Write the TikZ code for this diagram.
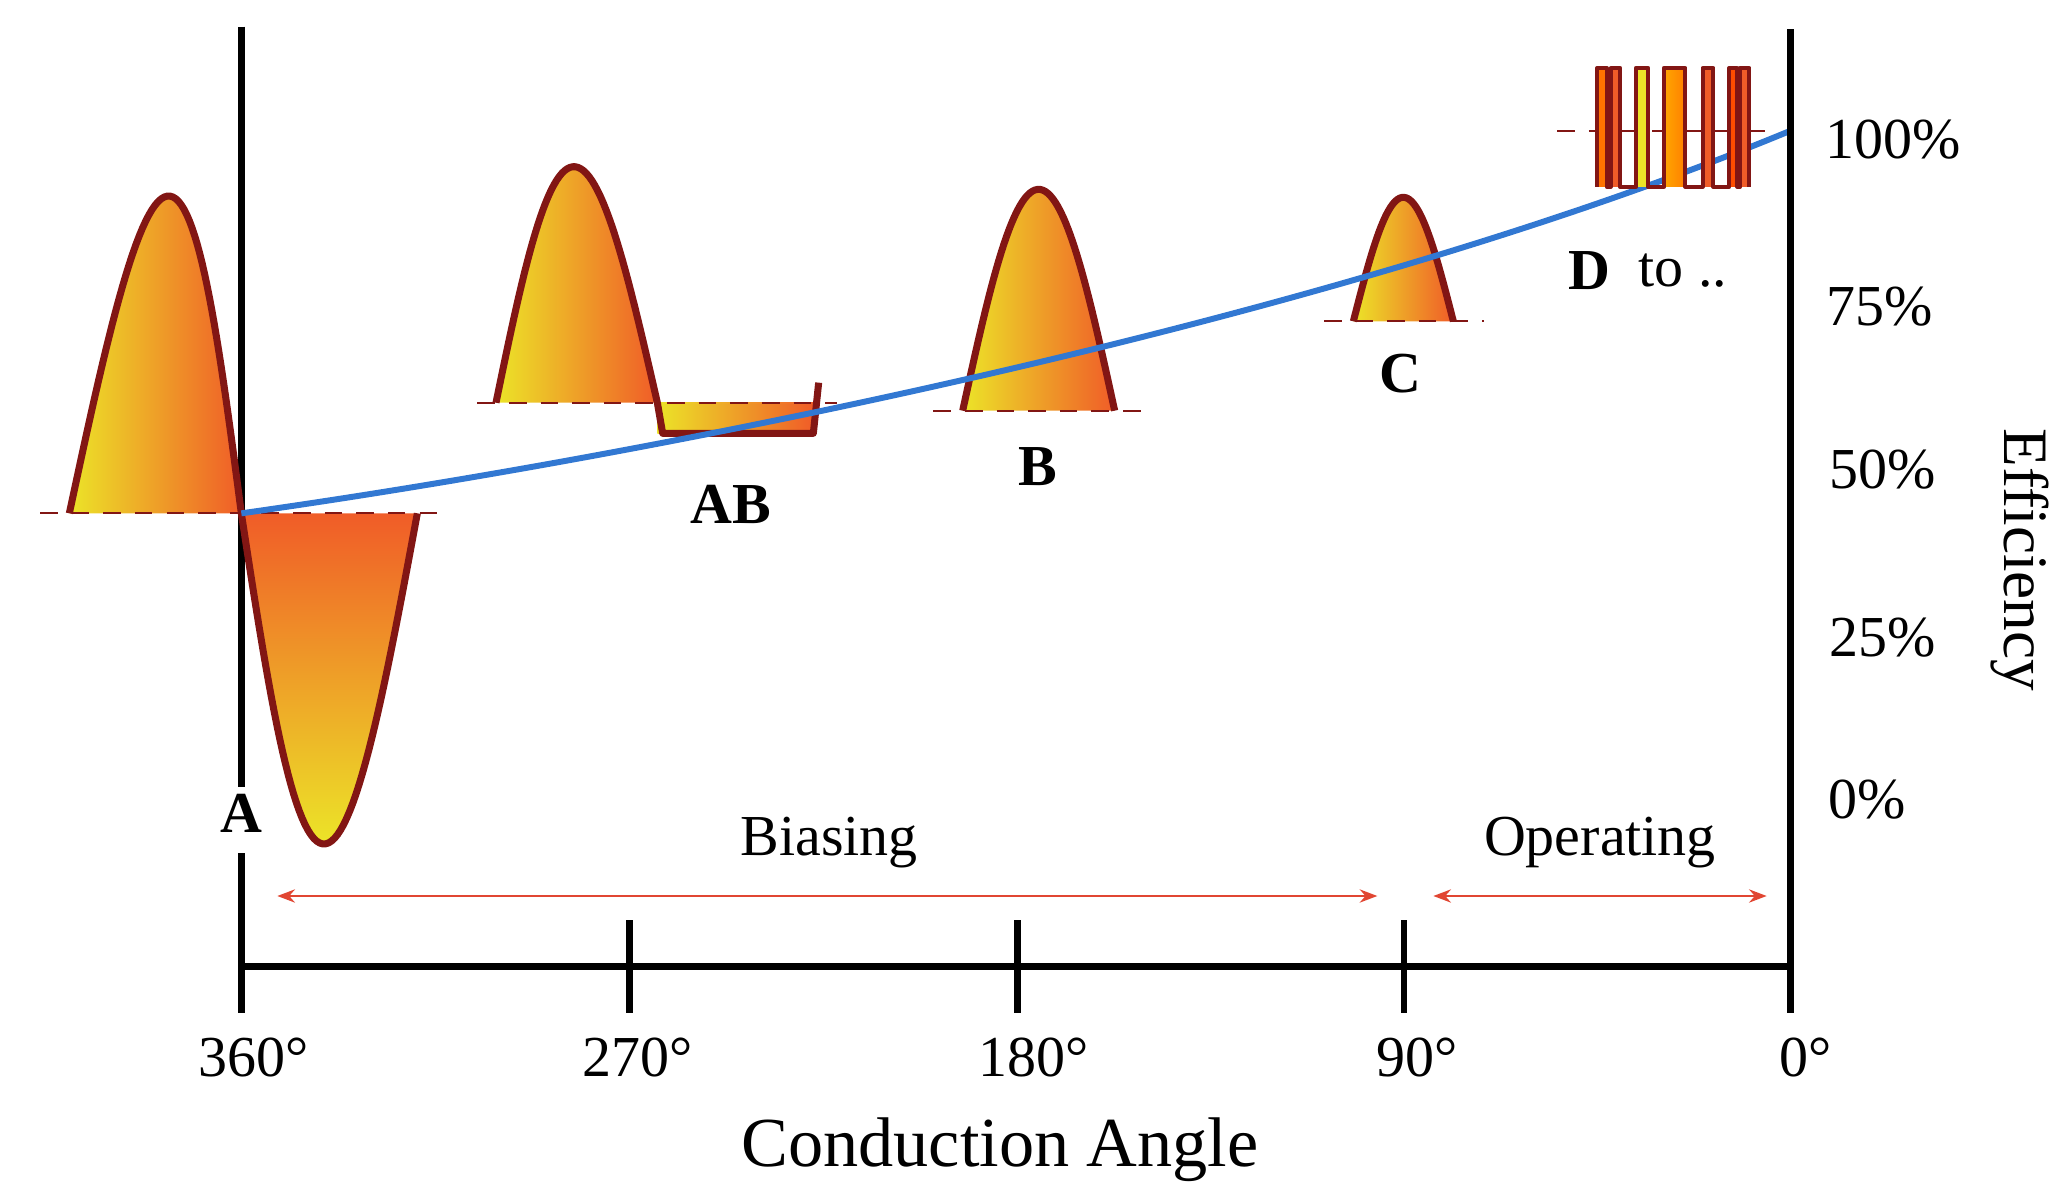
\documentclass[tikz,border=0pt]{standalone}
\usepackage{fontspec}
\setmainfont{Liberation Serif}
\usetikzlibrary{arrows.meta}
\definecolor{wred}{RGB}{130,22,20}
\definecolor{wyel}{RGB}{236,228,40}
\definecolor{word}{RGB}{240,92,40}
\definecolor{eblue}{RGB}{50,120,210}
\definecolor{arr}{RGB}{225,70,50}
\tikzset{
 axis/.style={line width=1.9pt,black},
 wave/.style={line width=2pt,wred,line join=round},
 base/.style={wred,dashed,line width=0.6pt,dash pattern=on 5pt off 4pt},
 lbl/.style={font=\fontsize{16.5}{18}\selectfont},
 blbl/.style={font=\fontsize{16.5}{18}\selectfont\bfseries},
 grad/.style={left color=wyel,right color=word},
}
\begin{document}
\begin{tikzpicture}[x=0.013333cm,y=-0.013333cm]
\useasboundingbox (0,0) rectangle (1551,900.75);
% wave A
\shade[grad] plot[domain=0:180,samples=60,variable=\t] ({52+\t/180*129+10*sin(\t)},{385-238*sin(\t)}) -- cycle;
\shade[top color=word,bottom color=wyel] plot[domain=0:180,samples=60,variable=\t] ({181+\t/180*132-4*sin(\t)},{385+248*sin(\t)}) -- cycle;
\draw[base] (30,385) -- (335,385);
\draw[axis] (181,20) -- (181,590);
\draw[axis] (181,640) -- (181,727);
\draw[wave] plot[domain=0:180,samples=60,variable=\t] ({52+\t/180*129+10*sin(\t)},{385-238*sin(\t)})
  -- plot[domain=0:180,samples=60,variable=\t] ({181+\t/180*132-4*sin(\t)},{385+248*sin(\t)});
% AB
\shade[grad] plot[domain=0:180,samples=60,variable=\t] ({372+\t/180*121-2*sin(\t)},{302-177*sin(\t)}) -- cycle;
\shade[left color=wyel,right color=word] (493,302) rectangle (610,325);
\draw[base] (358,302) -- (628,302);
\draw[wave] plot[domain=0:180,samples=60,variable=\t] ({372+\t/180*121-2*sin(\t)},{302-177*sin(\t)})
  -- (497,325) -- (610,325) -- (614,287);
% B
\shade[grad] plot[domain=0:180,samples=60,variable=\t] ({722+\t/180*114},{308-166*sin(\t)}) -- cycle;
\draw[base] (700,308) -- (858,308);
\draw[wave] plot[domain=0:180,samples=60,variable=\t] ({722+\t/180*114},{308-166*sin(\t)});
% C
\shade[grad] plot[domain=0:180,samples=60,variable=\t] ({1015+\t/180*75},{241-93*sin(\t)}) -- cycle;
\draw[base] (993,241) -- (1113,241);
\draw[wave] plot[domain=0:180,samples=60,variable=\t] ({1015+\t/180*75},{241-93*sin(\t)});
% efficiency curve
\draw[eblue,line width=1.7pt] (181,385) .. controls (500,340) and (1000,240) .. (1343,98);
% D bars
\draw[base] (1168,98) -- (1330,98);
\fill[color=orange!90!red] (1198,51) rectangle (1205,140);
\fill[color=word] (1208,51) rectangle (1215,140);
\fill[color=wyel] (1227,51) rectangle (1236,140);
\shade[left color=orange!70!yellow,right color=orange] (1248,51) rectangle (1264,140);
\fill[color=word] (1277,51) rectangle (1285,140);
\fill[color=orange!60!red] (1297,51) rectangle (1303,140);
\fill[color=word] (1305,51) rectangle (1312,140);
\draw[wred,line width=1.2pt,line join=round] (1198,140) -- (1198,51) -- (1205,51) -- (1205,140) -- (1208,140) -- (1208,51) -- (1215,51) -- (1215,140)
 -- (1227,140) -- (1227,51) -- (1236,51) -- (1236,140) -- (1248,140) -- (1248,51) -- (1264,51) -- (1264,140)
 -- (1277,140) -- (1277,51) -- (1285,51) -- (1285,140) -- (1297,140) -- (1297,51) -- (1303,51) -- (1303,140)
 -- (1305,140) -- (1305,51) -- (1312,51) -- (1312,140);
% axes
\draw[axis] (1343,22) -- (1343,760);
\draw[axis] (181,725) -- (1343,725);
\foreach \x in {181,472,763,1053} \draw[axis] (\x,690) -- (\x,760);
% arrows
\coordinate (b1) at (208,672); \coordinate (b2) at (1033,672);
\coordinate (o1) at (1075,672); \coordinate (o2) at (1325,672);
\draw[arr,line width=0.8pt,{Stealth[length=5pt]}-{Stealth[length=5pt]}] (b1) -- (b2);
\draw[arr,line width=0.8pt,{Stealth[length=5pt]}-{Stealth[length=5pt]}] (o1) -- (o2);
% labels
\node[lbl] (t360) at (190,793) {360°};
\node[lbl] (t270) at (478,793) {270°};
\node[lbl] (t180) at (775,793) {180°};
\node[lbl] (t90) at (1063,793) {90°};
\node[lbl] (t0) at (1354,793) {0°};
\node[font=\fontsize{20}{22}\selectfont] (ca) at (750,862) {Conduction Angle};
\node[lbl] (bias) at (622,632) {Biasing};
\node[lbl] (oper) at (1200,632) {Operating};
\node[lbl] (p100) at (1420,105) {100\%};
\node[lbl] (p75) at (1410,230) {75\%};
\node[lbl] (p50) at (1412,352) {50\%};
\node[lbl] (p25) at (1412,478) {25\%};
\node[lbl] (p0) at (1400,600) {0\%};
\node[font=\fontsize{18}{20}\selectfont,rotate=-90] (eff) at (1515,420) {Efficiency};
\node[blbl] (lA) at (181,610) {A};
\node[blbl] (lAB) at (548,378) {AB};
\node[blbl] (lB) at (778,350) {B};
\node[blbl] (lC) at (1050,280) {C};
\node[blbl] (lD) at (1192,203) {D};
\node[lbl] (to) at (1262,203) {to ..};
\end{tikzpicture}
\end{document}
